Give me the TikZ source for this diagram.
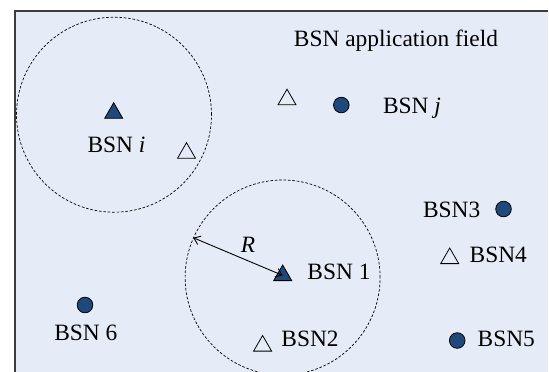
\documentclass[tikz,border=0pt]{standalone}
\usepackage{fontspec}
\setmainfont{Liberation Serif}
\usetikzlibrary{shapes.geometric,arrows.meta}
\definecolor{bsnblue}{RGB}{31,73,125}
\definecolor{fieldbg}{RGB}{230,236,247}
\definecolor{framecol}{RGB}{60,60,60}
\tikzset{
  tri/.style={regular polygon, regular polygon sides=3, minimum size=10.4pt, inner sep=0pt, draw=black, line width=0.4pt},
  ftri/.style={tri, fill=bsnblue},
  otri/.style={tri},
  bsndot/.style={circle, minimum size=7.8pt, inner sep=0pt, draw=black, line width=0.4pt, fill=bsnblue},
  lbl/.style={inner sep=0pt, font=\fontsize{11.7}{14}\selectfont},
  rangecircle/.style={circle, minimum size=97.5pt, inner sep=0pt, draw=black, line width=0.35pt, dash pattern=on 1.3pt off 0.9pt},
}
\begin{document}
\begin{tikzpicture}[x=0.5pt,y=-0.5pt]
\useasboundingbox (0,0) rectangle (549,371);
\begin{scope}
\clip (0,0) rectangle (549,371);
\fill[fieldbg] (15,11) rectangle (548,372);
\draw[framecol, line width=0.7pt] (15,372) -- (15,11) -- (548,11);
% range circles
\node[rangecircle] (c1) at (114,114.7) {};
\node[rangecircle] (c2) at (282.6,277.5) {};
% title
\node[lbl, anchor=base] (title) at (396,46) {BSN application field};
% triangles
\node[ftri] (ti) at (113.7,113.1) {};
\node[otri] (ta) at (186.5,153.1) {};
\node[otri] (tb) at (287,99.6) {};
\node[ftri] (t1) at (282.7,275.4) {};
\node[otri] (t2) at (262.6,345.9) {};
\node[otri] (t4) at (449.7,258.4) {};
% dots
\node[bsndot] (dj) at (341.3,105) {};
\node[bsndot] (d3) at (503.5,209) {};
\node[bsndot] (d5) at (457.2,340.5) {};
\node[bsndot] (d6) at (85,305) {};
% labels
\node[lbl, anchor=base] (li) at (116.5,152) {BSN \textit{i}};
\node[lbl, anchor=base west] (lj) at (382.7,113.3) {BSN \textit{j}};
\node[lbl, anchor=base west] (l3) at (422.7,217.5) {BSN3};
\node[lbl, anchor=base west] (l4) at (469.3,262) {BSN4};
\node[lbl, anchor=base west] (l1) at (307,279.3) {BSN 1};
\node[lbl, anchor=base] (l6) at (85.8,340.7) {BSN 6};
\node[lbl, anchor=base west] (l2) at (281,346.7) {BSN2};
\node[lbl, anchor=base west] (l5) at (477.3,346.7) {BSN5};
\node[lbl, anchor=base] (lR) at (248,252.3) {\textit{R}};
% radius arrow
\draw[line width=0.45pt, {Straight Barb[length=3pt,width=4.5pt]}-{Straight Barb[length=3pt,width=4.5pt]}] (c2.156) -- (t1.center);
\end{scope}
\end{tikzpicture}
\end{document}
